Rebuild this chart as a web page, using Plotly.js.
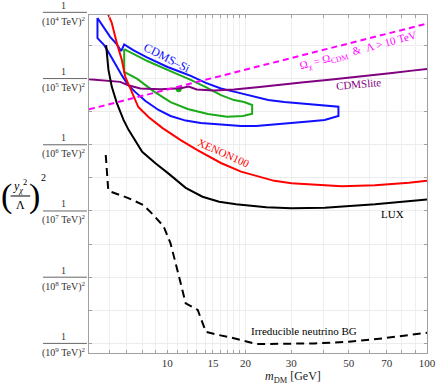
<!DOCTYPE html>
<html><head><meta charset="utf-8">
<script src="https://cdn.plot.ly/plotly-3.0.1.min.js"></script>
<style>html,body{margin:0;padding:0;background:#fff}</style>
</head><body><div id="chart" style="width:436px;height:387px"></div>
<script>
// ---- data (mass in GeV, coupling as log10 of (y^2/Lambda)^2 in TeV^-2) ----
const xenonMass = [5.88, 6.12, 6.40, 6.69, 6.89, 7.32, 7.74, 8.47, 9.57, 11.27, 13.07, 16.10, 19.24, 25.84, 30.1, 46.97, 63.06, 85.2, 100];
const xenonLog  = [-8.0, -8.32, -8.93, -9.44, -9.94, -10.44, -10.86, -11.16, -11.49, -11.86, -12.16, -12.55, -12.81, -13.09, -13.16, -13.25, -13.22, -13.15, -13.09];

const luxMass = [5.82, 5.94, 6.12, 6.40, 6.79, 7.10, 8.01, 9.01, 10.15, 11.78, 13.67, 15.85, 18.41, 24.05, 30.1, 40.4, 63.1, 100];
const luxLog  = [-8.99, -9.74, -10.25, -10.74, -11.25, -11.55, -12.21, -12.56, -12.88, -13.30, -13.57, -13.72, -13.80, -13.89, -13.92, -13.90, -13.80, -13.65];

const cdmsSiMass = [5.39, 5.67, 6.03, 6.39, 6.65, 6.83, 7.40, 8.32, 9.26, 10.03, 11.27, 12.32, 14.08, 16.10, 18.41, 21.61, 24.48, 28.24, 32.87, 38.25, 45.61, 45.61, 40.36, 34.99, 28.24, 25.15, 22.0, 19.24, 16.10, 13.47, 11.78, 10.30, 9.26, 8.25, 7.54, 7.08, 6.71, 6.36, 6.03, 5.72, 5.39, 5.39];
const cdmsSiLog  = [-8.17, -8.44, -8.74, -8.96, -9.17, -8.97, -9.14, -9.35, -9.53, -9.65, -9.80, -9.92, -10.13, -10.30, -10.41, -10.54, -10.65, -10.71, -10.75, -10.80, -10.85, -11.13, -11.25, -11.30, -11.36, -11.40, -11.43, -11.43, -11.39, -11.34, -11.27, -11.13, -10.95, -10.68, -10.41, -10.20, -9.92, -9.59, -9.29, -8.99, -8.78, -8.17];

const cdmsSi68Mass = [6.83, 7.54, 8.39, 10.03, 12.32, 14.08, 16.10, 18.08, 19.77, 21.23, 21.23, 19.59, 16.98, 14.34, 11.99, 10.30, 8.85, 7.67, 6.83, 6.83];
const cdmsSi68Log  = [-9.11, -9.29, -9.47, -9.74, -10.04, -10.26, -10.50, -10.65, -10.71, -10.80, -11.06, -11.13, -11.15, -11.07, -10.92, -10.71, -10.38, -10.01, -9.80, -9.11];

const bestFitMass = [11.07];
const bestFitLog  = [-10.32];

const cdmsliteMass = [5.0, 6.03, 6.59, 7.08, 7.88, 9.42, 11.27, 12.10, 12.99, 15.12, 18.08, 22.2, 26.3, 32.87, 42.97, 56.16, 73.4, 87.7, 100];
const cdmsliteLog  = [-10.02, -10.07, -10.10, -10.20, -10.30, -10.32, -10.29, -10.24, -10.33, -10.36, -10.33, -10.26, -10.19, -10.12, -10.03, -9.94, -9.83, -9.76, -9.71];

const relicMass = [5, 100];
const relicLog  = [-10.93, -8.34];

const nuBGMass = [5.80, 5.93, 6.03, 7.08, 8.10, 8.77, 9.68, 10.30, 10.94, 11.78, 13.11, 14.08, 15.85, 17.60, 22.0, 27.5, 36.9, 50.0, 67.1, 100];
const nuBGLog  = [-12.31, -13.37, -13.41, -13.61, -13.82, -14.09, -14.46, -14.98, -15.78, -16.79, -16.99, -17.65, -17.75, -17.82, -18.02, -18.02, -18.00, -17.95, -17.85, -17.68];

const xTickVals = [5, 6, 7, 8, 9, 10, 11, 12, 13, 14, 15, 16, 17, 18, 19, 20, 30, 40, 50, 60, 70, 80, 90, 100];
const xTickText = ['', '', '', '', '', '10', '', '', '', '', '15', '', '', '', '', '20', '30', '', '50', '', '70', '', '', '100'];
const yGridExps = [-8, -9, -10, -11, -12, -13, -14, -15, -16, -17, -18];
const yLabelPowers = [4, 5, 6, 7, 8, 9];

// ---- drawing ----
const toY = a => a.map(v => Math.pow(10, v));
const serif = 'Liberation Serif, Times New Roman, serif';
const yLo = -18.29, yHi = -8.08;
const py = e => (e - yLo) / (yHi - yLo);

function line(x, y, color, extra) {
  return Object.assign({type: 'scatter', mode: 'lines', x: x, y: toY(y),
    line: {color: color, width: 2}, hoverinfo: 'skip'}, extra || {});
}
const traces = [
  line(cdmsSiMass, cdmsSiLog, '#1010ff'),
  line(cdmsSi68Mass, cdmsSi68Log, '#1aaa1a'),
  {type: 'scatter', mode: 'markers', x: bestFitMass, y: toY(bestFitLog), marker: {color: '#1aaa1a', size: 6}, hoverinfo: 'skip'},
  line(cdmsliteMass, cdmsliteLog, '#800080'),
  line(xenonMass, xenonLog, '#ff0000'),
  line(luxMass, luxLog, '#000000'),
  line(relicMass, relicLog, '#ff00ff', {line: {color: '#ff00ff', width: 2, dash: '6px,4px'}}),
  line(nuBGMass, nuBGLog, '#000000', {line: {color: '#000000', width: 2, dash: '8px,5px'}})
];

const annotations = [];
const shapes = [];
const tickColor = '#333';
yLabelPowers.forEach(n => {
  const yy = py(-2 * n);
  annotations.push({xref: 'paper', yref: 'paper', x: -0.074, y: yy, yshift: 7, text: '1',
    showarrow: false, xanchor: 'center', yanchor: 'middle', font: {family: serif, size: 10, color: tickColor}});
  annotations.push({xref: 'paper', yref: 'paper', x: -0.074, y: yy, yshift: -9,
    text: '(10<sup>' + n + '</sup> TeV)<sup>2</sup>',
    showarrow: false, xanchor: 'center', yanchor: 'middle', font: {family: serif, size: 10, color: tickColor}});
  shapes.push({type: 'line', xref: 'paper', yref: 'paper', x0: -0.136, x1: -0.006, y0: yy, y1: yy,
    line: {color: '#666', width: 1}});
});

// y-axis title (fraction in parentheses)
const ty = 0.4645;
annotations.push({xref: 'paper', yref: 'paper', x: -0.245, y: ty, text: '(', showarrow: false,
  xanchor: 'center', yanchor: 'middle', font: {family: serif, size: 34, color: '#000'}});
annotations.push({xref: 'paper', yref: 'paper', x: -0.203, y: ty, yshift: 9,
  text: '<i>y</i><sub><i>χ</i></sub><sup>2</sup>', showarrow: false,
  xanchor: 'center', yanchor: 'middle', font: {family: serif, size: 12, color: '#000'}});
annotations.push({xref: 'paper', yref: 'paper', x: -0.203, y: ty, yshift: -9, text: 'Λ', showarrow: false,
  xanchor: 'center', yanchor: 'middle', font: {family: serif, size: 12, color: '#000'}});
annotations.push({xref: 'paper', yref: 'paper', x: -0.16, y: ty, text: ')', showarrow: false,
  xanchor: 'center', yanchor: 'middle', font: {family: serif, size: 34, color: '#000'}});
annotations.push({xref: 'paper', yref: 'paper', x: -0.136, y: ty + 0.055, text: '2', showarrow: false,
  xanchor: 'center', yanchor: 'middle', font: {family: serif, size: 10, color: '#000'}});
shapes.push({type: 'line', xref: 'paper', yref: 'paper', x0: -0.232, x1: -0.174, y0: ty, y1: ty,
  line: {color: '#000', width: 1}});

// x-axis title
annotations.push({xref: 'paper', yref: 'paper', x: 0.6036, y: -0.071, text: '<i>m</i><sub>DM</sub> [GeV]',
  showarrow: false, xanchor: 'center', yanchor: 'middle', font: {family: serif, size: 12, color: '#222'}});

// curve labels
function lab(x, y, text, color, angle, size) {
  annotations.push({xref: 'paper', yref: 'paper', x: x, y: y, text: text, showarrow: false,
    xanchor: 'center', yanchor: 'middle', textangle: angle, font: {family: serif, size: size || 11, color: color}});
}
lab(0.232, 0.874, 'CDMS–Si', '#1010ff', 27, 12);
lab(0.3994, 0.5917, 'XENON100', '#ff0000', 24, 11);
lab(0.898, 0.4112, 'LUX', '#000', 0, 11);
lab(0.797, 0.7944, 'CDMSlite', '#800080', -5, 11);
lab(0.7959, 0.8935, 'Ω<sub>χ</sub> = Ω<sub>CDM</sub>  &amp;  Λ &gt; 10 TeV', '#ff00ff', -15, 11);
lab(0.636, 0.066, 'Irreducible neutrino BG', '#000', 0, 11);

const layout = {
  width: 436, height: 387,
  margin: {l: 89, r: 9, t: 15, b: 34},
  paper_bgcolor: '#fff', plot_bgcolor: '#fff',
  showlegend: false,
  xaxis: {type: 'log', range: [Math.log10(5), 2], tickvals: xTickVals, ticktext: xTickText,
    showgrid: true, gridcolor: '#efefef', gridwidth: 1, zeroline: false,
    showline: true, linecolor: '#a0a0a0', linewidth: 1, mirror: 'ticks',
    ticks: 'inside', ticklen: 3, tickcolor: '#a0a0a0',
    tickfont: {family: serif, size: 11, color: '#333'}},
  yaxis: {type: 'log', range: [yLo, yHi], tickvals: toY(yGridExps), ticktext: yGridExps.map(() => ''),
    showgrid: true, gridcolor: '#ececec', gridwidth: 1, zeroline: false,
    showline: true, linecolor: '#a0a0a0', linewidth: 1, mirror: 'ticks',
    ticks: 'inside', ticklen: 3, tickcolor: '#a0a0a0'},
  annotations: annotations,
  shapes: shapes
};

Plotly.newPlot('chart', traces, layout, {displayModeBar: false, staticPlot: true});
</script></body></html>
